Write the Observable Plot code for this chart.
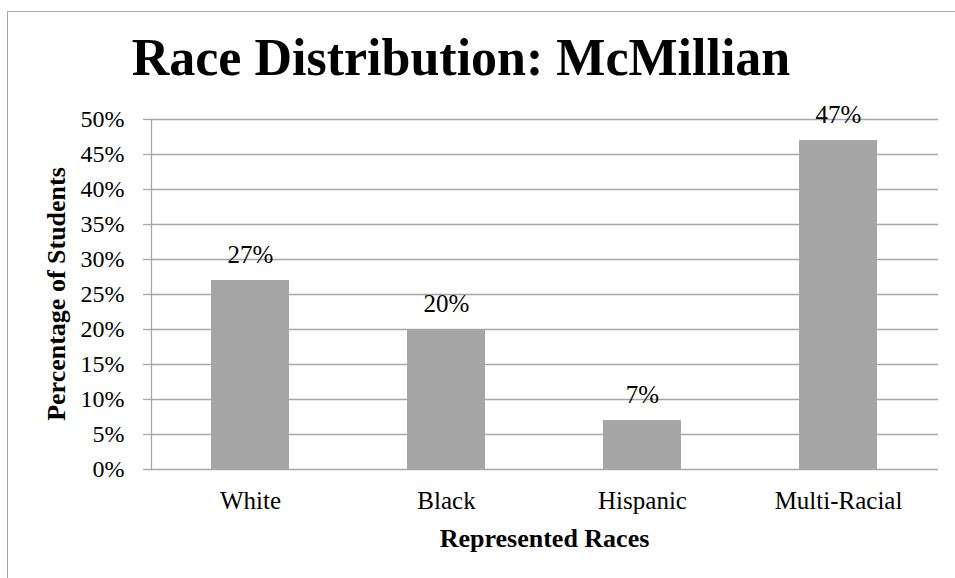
<!DOCTYPE html>
<html>
<head>
<meta charset="utf-8">
<script src="https://cdn.jsdelivr.net/npm/d3@7"></script>
<script src="https://cdn.jsdelivr.net/npm/@observablehq/plot@0.6"></script>
<style>
  html, body { margin: 0; padding: 0; background: #fff; }
  #wrap { position: relative; width: 955px; height: 578px; overflow: hidden; font-family: "Liberation Serif", "Times New Roman", serif; }
  #frame { position: absolute; left: 7px; top: 11px; width: 1000px; height: 700px; border: 1px solid #a6a6a6; box-sizing: border-box; }
  #title { position: absolute; left: 0; width: 922px; top: 28px; text-align: center; font-weight: bold; font-size: 52px; line-height: 60px; color: #000; }
  #ytitle { position: absolute; left: 57px; top: 294px; transform: translate(-50%, -50%) rotate(-90deg); white-space: nowrap; font-weight: bold; font-size: 26px; line-height: 28px; color: #000; }
  #xtitle { position: absolute; left: 0; width: 1089px; top: 526px; text-align: center; font-weight: bold; font-size: 26px; line-height: 26px; color: #000; }
  #chart { position: absolute; left: 0; top: 0; }
</style>
</head>
<body>
<div id="wrap">
  <div id="frame"></div>
  <div id="chart"></div>
  <div id="title">Race Distribution: McMillian</div>
  <div id="ytitle">Percentage of Students</div>
  <div id="xtitle">Represented Races</div>
</div>
<script>
const races = ["White", "Black", "Hispanic", "Multi-Racial"];
const shares = [0.27, 0.20, 0.07, 0.47];
const yTicks = [0, 0.05, 0.10, 0.15, 0.20, 0.25, 0.30, 0.35, 0.40, 0.45, 0.50];

const data = races.map((r, i) => ({race: r, share: shares[i]}));
const pct = d3.format(".0%");
const gray = "#a6a6a6";

const plot = Plot.plot({
  width: 955,
  height: 578,
  marginLeft: 151,
  marginRight: 17,
  marginTop: 119,
  marginBottom: 109,
  style: {fontFamily: "'Liberation Serif', 'Times New Roman', serif", fontSize: "24px", color: "#000", background: "transparent"},
  x: {domain: races, paddingInner: 0.6, paddingOuter: 0.3, label: null},
  y: {domain: [0, 0.5], label: null},
  marks: [
    Plot.gridY(yTicks, {stroke: gray, strokeOpacity: 1, strokeWidth: 1.3}),
    Plot.barY(data, {x: "race", y: "share", fill: "#a5a5a5"}),
    Plot.frame({anchor: "left", stroke: gray, strokeWidth: 1.3}),
    Plot.axisY(yTicks, {tickFormat: pct, tickSize: 8, tickPadding: 19, stroke: gray, strokeWidth: 1.3, fill: "#000", fontSize: 24, label: null}),
    Plot.axisX({tickSize: 0, tickPadding: 22, fill: "#000", fontSize: 25, label: null}),
    Plot.text(data, {x: "race", y: "share", text: d => pct(d.share), lineAnchor: "bottom", dy: -18, fontSize: 25, fill: "#000"})
  ]
});
document.getElementById("chart").appendChild(plot);
</script>
</body>
</html>
